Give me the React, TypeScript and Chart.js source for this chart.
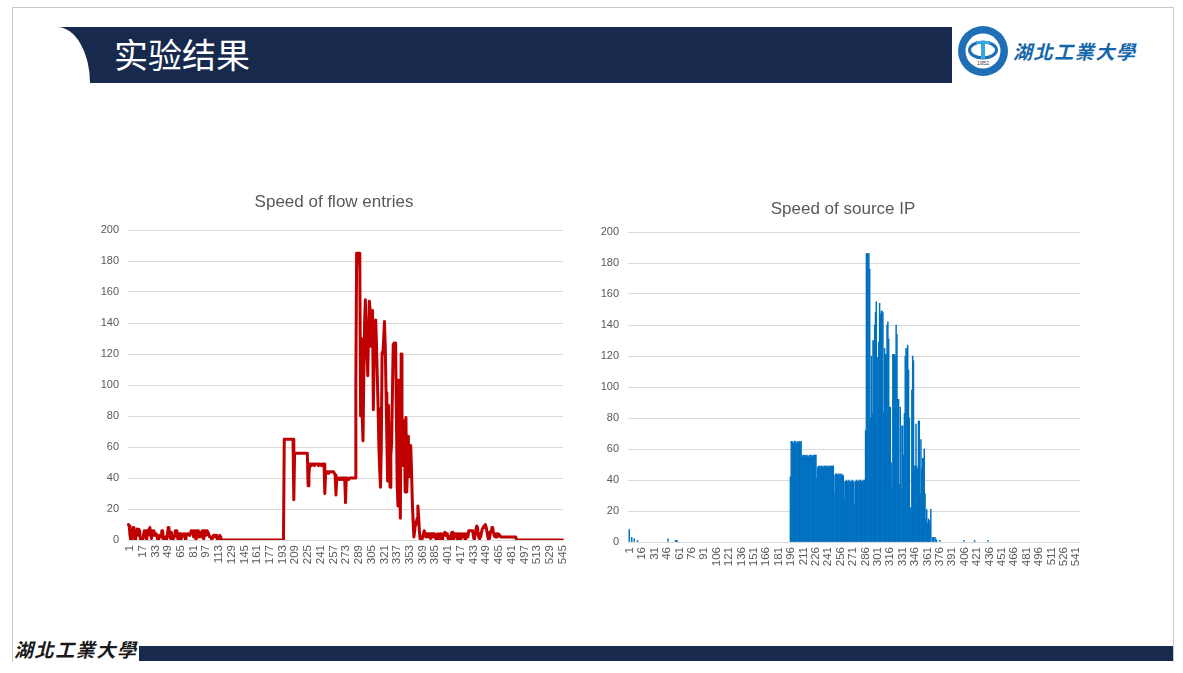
import React, { useEffect, useRef } from "react";
import { Chart, registerables } from "chart.js";

Chart.register(...registerables);

const POINT_COUNT = 547;
const categories = Array.from({ length: POINT_COUNT }, (_, i) => String(i + 1));
const yTicks = [0, 20, 40, 60, 80, 100, 120, 140, 160, 180, 200];

const flowNoiseHead = [
  10, 9, 3, 0, 6, 1, 8, 7, 1, 0, 5, 7, 3, 7, 6, 1, 0, 0, 0, 3,
  6, 2, 6, 0, 6, 3, 7, 8, 4, 1, 6, 3, 6, 4, 3, 4, 2, 0, 0, 3,
  3, 2, 6, 6, 0, 1, 0, 2, 0, 3, 8, 7, 3, 1, 5, 1, 0, 2, 2, 6,
  6, 4, 1, 0, 4, 4, 0, 2, 3, 4, 4, 2, 0, 3, 4, 4, 4, 3, 4, 6,
  5, 6, 2, 6, 6, 0, 2, 6, 6, 2, 3, 4, 5, 6, 1, 6, 6, 6, 3, 6,
  6, 4, 2, 2, 2, 0, 2, 3, 3, 2, 3, 3, 0, 0, 2, 3, 2, 0, 0, 0,
];
const flowIdle = [
  0, 0, 0, 0, 0, 0, 0, 0, 0, 0, 0, 0, 0, 0, 0, 0, 0, 0, 0, 0,
  0, 0, 0, 0, 0, 0, 0, 0, 0, 0, 0, 0, 0, 0, 0, 0, 0, 0, 0, 0,
  0, 0, 0, 0, 0, 0, 0, 0, 0, 0, 0, 0, 0, 0, 0, 0, 0, 0, 0, 0,
  0, 0, 0, 0, 0, 0, 0, 0, 0, 0, 0, 0, 0, 0, 0, 0,
];
const flowPlateaus = [
  65, 65, 65, 65, 65, 65, 65, 65, 65, 65, 65, 65, 26,
  56, 56, 56, 56, 56, 56, 56, 56, 56, 56, 56, 56, 56, 56, 56, 56, 56, 35, 42,
  49, 49, 48, 49, 49, 49, 48, 49, 49, 49, 49, 48, 49, 49, 49, 48, 49, 49, 49, 30,
  44, 44, 44, 43, 44, 44, 44, 44, 44, 44, 44, 43, 42, 29,
  40, 40, 40, 39, 40, 40, 40, 39, 40, 40, 40, 24,
  40, 40, 40, 39, 40, 40, 40, 40, 40, 40, 40, 40,
];
const flowBurst = [
  100, 185, 185, 185, 185, 176, 80, 130, 80, 64, 105, 140, 155, 130, 120, 106, 135, 154,
  148, 125, 135, 148, 84, 120, 135, 142, 125, 105, 85, 60, 45, 34, 60, 121, 120, 130, 141, 125,
  95, 65, 38, 87, 60, 34, 55, 62, 95, 126, 127, 126, 127, 80, 35, 22, 103, 40, 14, 120,
  85, 48, 60, 77, 31, 79, 31, 45, 67, 41, 55, 61, 45, 25, 12, 2, 6, 11, 10, 14,
  22, 15, 5, 0, 2, 0, 2, 4, 6, 4, 2,
];
const flowNoiseTail = [
  4, 2, 4, 2, 4, 1, 4, 4, 2, 4, 4, 2, 0, 3, 4, 2, 1, 4, 0, 2,
  0, 4, 4, 5, 3, 4, 4, 1, 0, 2, 0, 4, 5, 2, 0, 4, 4, 2, 4, 0,
  4, 2, 0, 4, 4, 2, 3, 4, 1, 0, 4, 4, 2,
  6, 6, 6, 6, 6, 6, 2, 0, 4, 7, 9, 8, 3, 1, 4, 2, 5, 7, 8, 9, 9, 10,
  8, 5, 2, 0, 1, 4, 6, 8, 8, 5, 3, 2, 4, 4, 2, 4, 4, 3,
  2, 2, 2, 2, 2, 2, 2, 2, 2, 2, 2, 2, 2, 2, 2, 2, 2, 2, 2, 2, 0,
];
const flowEnd = [
  0, 0, 0, 0, 0, 0, 0, 0, 0, 0, 0, 0, 0, 0, 0, 0, 0, 0, 0, 0,
  0, 0, 0, 0, 0, 0, 0, 0, 0, 0, 0, 0, 0, 0, 0, 0, 0, 0, 0, 0,
  0, 0, 0, 0, 0, 0, 0, 0, 0, 0, 0, 0, 0, 0, 0, 0, 0, 0, 0, 0,
];
const flowSpeed = [...flowNoiseHead, ...flowIdle, ...flowPlateaus, ...flowBurst, ...flowNoiseTail, ...flowEnd];

const ipHead = [
  0, 8, 0, 0, 3, 0, 0, 2, 0, 0, 0, 1, 0, 0, 0, 0, 0, 0, 0, 0,
  0, 0, 0, 0, 0, 0, 0, 0, 0, 0, 0, 0, 0, 0, 0, 0, 0, 0, 0, 0,
  0, 0, 0, 0, 0, 0, 0, 0, 2, 0, 0, 0, 0, 0, 0, 0, 0, 1, 1, 1,
  0, 0, 0, 0, 0, 0, 0, 0, 0, 0, 0, 0, 0, 0, 0, 0, 0, 0, 0, 0,
  0, 0, 0, 0, 0, 0, 0, 0, 0, 0, 0, 0, 0, 0, 0, 0, 0, 0, 0, 0,
  0, 0, 0, 0, 0, 0, 0, 0, 0, 0, 0, 0, 0, 0, 0, 0, 0, 0, 0, 0,
  0, 0, 0, 0, 0, 0, 0, 0, 0, 0, 0, 0, 0, 0, 0, 0, 0, 0, 0, 0,
  0, 0, 0, 0, 0, 0, 0, 0, 0, 0, 0, 0, 0, 0, 0, 0, 0, 0, 0, 0,
  0, 0, 0, 0, 0, 0, 0, 0, 0, 0, 0, 0, 0, 0, 0, 0, 0, 0, 0, 0,
  0, 0, 0, 0, 0, 0, 0, 0, 0, 0, 0, 0, 0, 0, 0, 0,
];
const ipPlateaus = [
  42, 65, 65, 64, 64, 65, 65, 64, 64, 65, 64, 65, 64, 65,
  56, 55, 56, 56, 55, 56, 56, 55, 55, 56, 56, 55, 56, 55, 56, 56, 56, 56, 41,
  48, 49, 49, 48, 49, 49, 49, 48, 49, 49, 49, 49, 48, 49, 49, 49, 49, 49, 49, 49, 31,
  43, 44, 44, 43, 44, 43, 44, 43, 44, 43, 43, 28,
  39, 39, 40, 39, 39, 40, 39, 39, 39, 40, 39, 39, 24,
  39, 40, 39, 39, 40, 39, 40, 39, 39, 40, 39, 40,
  72, 186, 186, 186, 186, 176,
];
const ipBurst = [
  80, 120, 83, 130, 130, 140, 148, 155, 119, 119, 129, 154, 147, 149, 149, 148, 84, 125, 121, 121,
  140, 142, 131, 87, 87, 51, 34, 121, 121, 121, 120, 140, 134, 92, 92, 37, 87, 34, 75, 75,
  56, 83, 120, 125, 125, 127, 111, 80, 22, 22, 98, 120, 117, 49, 49, 76, 49, 47, 78, 78,
  31, 66, 47, 54, 54, 60, 31, 15, 21, 12, 15, 14, 11, 21,
];
const ipTail = [
  0, 3, 3, 0, 3, 2, 1, 0, 0, 0, 1, 0, 0, 0, 0, 0, 0, 0, 0, 0,
  0, 0, 0, 0, 0, 0, 0, 0, 0, 0, 0, 0, 0, 0, 0, 0, 0, 0, 0, 1,
  0, 0, 0, 0, 0, 0, 0, 0, 0, 0, 0, 0, 1, 0, 0, 0, 0, 0, 0, 0,
  0, 0, 0, 0, 0, 0, 0, 0, 1, 0, 0, 0, 0, 0, 0, 0, 0, 0, 0, 0,
  0, 0, 0, 0, 0, 0, 0, 0, 0, 0, 0, 0, 0, 0, 0, 0, 0, 0, 0, 0,
  0, 0, 0, 0, 0, 0, 0, 0, 0, 0, 0, 0, 0, 0, 0, 0, 0, 0, 0, 0,
  0, 0, 0, 0, 0, 0, 0, 0, 0, 0, 0, 0, 0, 0, 0, 0, 0, 0, 0, 0,
  0, 0, 0, 0, 0, 0, 0, 0, 0, 0, 0, 0, 0, 0, 0, 0, 0, 0, 0, 0,
  0, 0, 0, 0, 0, 0, 0, 0, 0, 0,
];
const sourceIpSpeed = [...ipHead, ...ipPlateaus, ...ipBurst, ...ipTail];

const FONT = '"Liberation Sans", Arial, sans-serif';
const TEXT = "#595959";
const GRID = "#d9d9d9";

function makeOptions(title: string, every: number, yWidth: number, xHeight: number, right: number, titlePad: number): any {
  return {
    responsive: false,
    animation: false,
    layout: { padding: 0 },
    plugins: {
      legend: { display: false },
      tooltip: { enabled: false },
      title: {
        display: true,
        text: title,
        color: TEXT,
        font: { family: FONT, size: 17, weight: "normal" },
        padding: { top: 2.3, bottom: titlePad + 0.7 },
      },
    },
    scales: {
      x: {
        type: "category",
        offset: true,
        grid: { display: false, drawTicks: false },
        border: { display: false },
        ticks: {
          autoSkip: false,
          maxRotation: 90,
          minRotation: 90,
          padding: 5,
          labelOffset: 1.5,
          color: TEXT,
          font: { family: FONT, size: 11.5 },
        },
        afterBuildTicks: (s: any) => {
          s.ticks = s.ticks.filter((t: any) => t.value % every === 0);
        },
        afterFit: (s: any) => {
          s.height = xHeight;
        },
      },
      y: {
        min: 0,
        max: 200,
        grid: { color: GRID, lineWidth: 1, drawTicks: false },
        border: { display: false },
        afterBuildTicks: (s: any) => {
          s.ticks = yTicks.map((value) => ({ value }));
        },
        afterFit: (s: any) => {
          s.width = yWidth;
        },
        ticks: {
          padding: 9,
          color: TEXT,
          font: { family: FONT, size: 11 },
        },
      },
      // empty right-hand gutter: keeps the title centred on the whole chart box, left of the plot's centre
      gutter: {
        type: "linear",
        position: "right",
        grid: { display: false, drawTicks: false },
        border: { display: false },
        ticks: { display: false },
        afterFit: (s: any) => {
          s.width = right;
        },
      },
    },
  };
}

function FlowChart() {
  const ref = useRef<HTMLCanvasElement>(null);
  useEffect(() => {
    const chart = new Chart(ref.current!, {
      type: "line",
      data: {
        labels: categories,
        datasets: [
          {
            label: "Speed of flow entries",
            data: flowSpeed.slice(0, POINT_COUNT),
            borderColor: "#C00000",
            backgroundColor: "#C00000",
            borderWidth: 3,
            pointRadius: 0,
            tension: 0,
            borderJoinStyle: "round",
            borderCapStyle: "round",
          },
        ],
      },
      options: makeOptions("Speed of flow entries", 16, 40, 35, 17, 16.6),
    });
    return () => chart.destroy();
  }, []);
  return <canvas ref={ref} width={492} height={385} style={{ position: "absolute", left: 88, top: 190, display: "block" }} />;
}

function SourceIpChart() {
  const ref = useRef<HTMLCanvasElement>(null);
  useEffect(() => {
    const chart = new Chart(ref.current!, {
      type: "bar",
      data: {
        labels: categories,
        datasets: [
          {
            label: "Speed of source IP",
            data: sourceIpSpeed.slice(0, POINT_COUNT),
            backgroundColor: "#0070C0",
            borderWidth: 0,
            barPercentage: 1,
            categoryPercentage: 1,
            inflateAmount: (ctx: any) => (ctx.raw ? "auto" : 0),
          } as any,
        ],
      },
      options: makeOptions("Speed of source IP", 15, 38, 35, 16, 11.6),
    });
    return () => chart.destroy();
  }, []);
  return <canvas ref={ref} width={506} height={380} style={{ position: "absolute", left: 590, top: 197, display: "block" }} />;
}

const NAVY = "#17294D";

export default function App() {
  return (
    <div style={{ position: "fixed", left: 0, top: 0, width: 1183, height: 673, background: "#fff", overflow: "hidden" }}>
      <div style={{ position: "absolute", left: 12, top: 7, width: 1160, height: 654, border: "1px solid #c8c8c8", borderBottom: "none" }} />
      <div style={{ position: "absolute", left: 57, top: 27, width: 895, height: 56, background: NAVY }} />
      <div style={{ position: "absolute", left: 57, top: 27, width: 33, height: 56, background: "#fff", borderTopRightRadius: "33px 56px" }} />
      <div
        style={{
          position: "absolute",
          left: 114,
          top: 31,
          color: "#fff",
          fontFamily: '"Noto Sans CJK SC", sans-serif',
          fontSize: 34,
          lineHeight: "46px",
          whiteSpace: "nowrap",
        }}
      >
        实验结果
      </div>
      <svg width={54} height={54} style={{ position: "absolute", left: 956, top: 24 }} viewBox="0 0 54 54">
        <circle cx={27} cy={27} r={25} fill="#1F6FB4" />
        <circle cx={27} cy={27} r={17.5} fill="#fff" />
        <ellipse cx={27} cy={26} rx={13.5} ry={8} fill="none" stroke="#1F6FB4" strokeWidth={3} />
        <rect x={20} y={17} width={14} height={3} fill="#35A8E0" />
        <rect x={25} y={17} width={4} height={18} fill="#35A8E0" />
        <text x={27} y={41} textAnchor="middle" fontSize={5.5} fontFamily={FONT} fill="#333">1952</text>
      </svg>
      <div
        style={{
          position: "absolute",
          left: 1013,
          top: 37,
          color: "#1466A8",
          fontFamily: '"Noto Sans CJK TC", sans-serif',
          fontWeight: 700,
          fontStyle: "italic",
          fontSize: 19,
          lineHeight: "28px",
          letterSpacing: 1.6,
          whiteSpace: "nowrap",
        }}
      >
        湖北工業大學
      </div>
      <FlowChart />
      <SourceIpChart />
      <div
        style={{
          position: "absolute",
          left: 14,
          top: 635,
          color: "#1a1a1a",
          fontFamily: '"Noto Sans CJK TC", sans-serif',
          fontWeight: 700,
          fontStyle: "italic",
          fontSize: 19,
          lineHeight: "28px",
          letterSpacing: 1.6,
          whiteSpace: "nowrap",
        }}
      >
        湖北工業大學
      </div>
      <div style={{ position: "absolute", left: 139, top: 646, width: 1034, height: 15, background: NAVY }} />
    </div>
  );
}
